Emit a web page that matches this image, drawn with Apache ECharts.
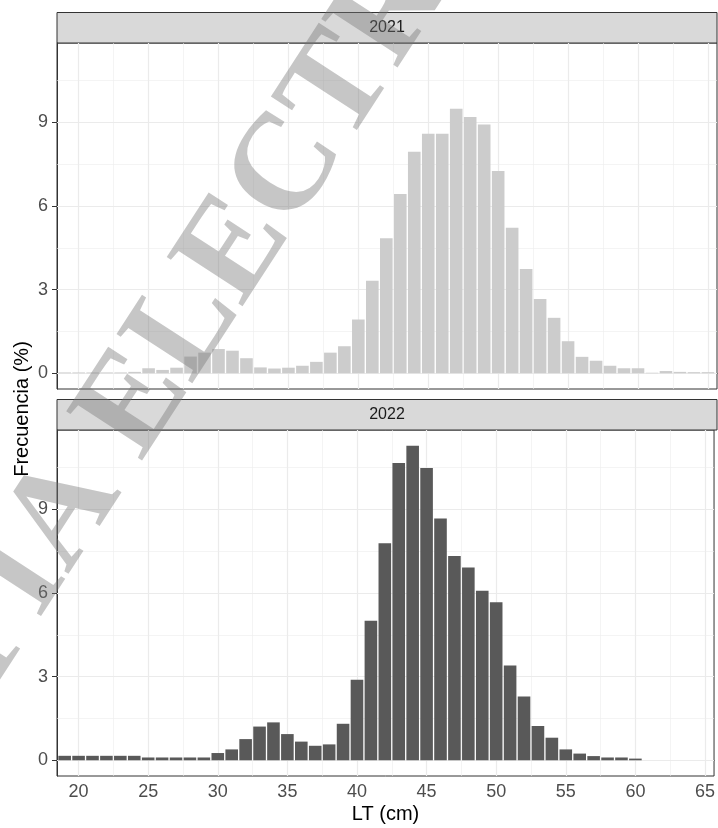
<!DOCTYPE html>
<html><head><meta charset="utf-8">
<script src="https://cdn.jsdelivr.net/npm/echarts@6/dist/echarts.min.js"></script>
<style>html,body{margin:0;padding:0;background:#fff}#c{width:718px;height:828px}</style>
</head><body><div id="c"></div>
<script>
// LT (cm) classes and frequencies (%)
const lengths2021 = [19,20,21,22,23,24,25,26,27,28,29,30,31,32,33,34,35,36,37,38,39,40,41,42,43,44,45,46,47,48,49,50,51,52,53,54,55,56,57,58,59,60,61,62,63,64,65];
const freq2021 = [0.03,0.03,0.03,0.03,0.03,0.05,0.18,0.12,0.20,0.60,0.74,0.87,0.81,0.54,0.21,0.17,0.20,0.27,0.41,0.74,0.97,1.93,3.32,4.85,6.43,7.95,8.60,8.60,9.49,9.20,8.93,7.26,5.22,3.74,2.67,1.99,1.15,0.59,0.45,0.27,0.18,0.18,0.02,0.08,0.05,0.04,0.04];
const lengths2022 = [19,20,21,22,23,24,25,26,27,28,29,30,31,32,33,34,35,36,37,38,39,40,41,42,43,44,45,46,47,48,49,50,51,52,53,54,55,56,57,58,59,60];
const freq2022 = [0.16,0.16,0.16,0.16,0.16,0.16,0.10,0.10,0.10,0.10,0.10,0.26,0.39,0.76,1.21,1.36,0.94,0.67,0.52,0.57,1.31,2.89,5.01,7.79,10.67,11.29,10.49,8.68,7.33,6.92,6.08,5.67,3.40,2.29,1.23,0.81,0.39,0.24,0.15,0.10,0.10,0.06];
const xTicks = [20,25,30,35,40,45,50,55,60,65];
const xMinor = [22.5,27.5,32.5,37.5,42.5,47.5,52.5,57.5,62.5];
const yTicks = [0,3,6,9];
const yMinor = [1.5,4.5,7.5,10.5];
const panelLabels = ['2021','2022'];
const xTitle = 'LT (cm)';
const yTitle = 'Frecuencia (%)';
const watermark = 'COPIA ELECTRONICA';

const FONT = 'Liberation Sans, Arial, sans-serif';
const chart = echarts.init(document.getElementById('c'), null, {renderer:'canvas'});

const grids = [
  {left:57, right:1, top:43, height:346},
  {left:57, right:1, top:430, height:346}
];

function gridLines(){
  const major = {color:'#ebebeb', width:1.2, type:'solid'};
  const minor = {color:'#ededed', width:0.6, type:'solid'};
  const d = [];
  xTicks.forEach(v=>d.push({xAxis:v, lineStyle:major}));
  xMinor.forEach(v=>d.push({xAxis:v, lineStyle:minor}));
  yTicks.forEach(v=>d.push({yAxis:v, lineStyle:major}));
  yMinor.forEach(v=>d.push({yAxis:v, lineStyle:minor}));
  return {silent:true, symbol:['none','none'], z:1, animation:false, label:{show:false}, data:d};
}

function xAxis(i, showLabels){
  return {
    type:'value', gridIndex:i, min:18.45, max:65.65,
    axisLine:{show:true, lineStyle:{color:'#333', width:1}},
    axisTick:{show:showLabels, length:5, lineStyle:{color:'#333'}, customValues:xTicks},
    axisLabel:{show:showLabels, customValues:xTicks, color:'#4d4d4d', fontSize:18, fontFamily:FONT, margin:7},
    splitLine:{show:false},
    name: showLabels ? xTitle : '',
    nameLocation:'middle', nameGap:28,
    nameTextStyle:{color:'#000', fontSize:20, fontFamily:FONT}
  };
}
function yAxis(i){
  return {
    type:'value', gridIndex:i, min:-0.5645, max:11.854,
    axisLine:{show:true, lineStyle:{color:'#333', width:1}},
    axisTick:{show:true, length:5, lineStyle:{color:'#333'}, customValues:yTicks},
    axisLabel:{customValues:yTicks, color:'#4d4d4d', fontSize:18, fontFamily:FONT, margin:9},
    splitLine:{show:false}
  };
}

const strips = grids.map((g,i)=>({
  type:'group', z:50,
  children:[
    {type:'rect', shape:{x:57, y:g.top-30.5, width:660, height:30.5},
     style:{fill:'#d9d9d9', stroke:'#333', lineWidth:1}},
    {type:'text', x:387, y:g.top-15, style:{text:panelLabels[i], fill:'#1a1a1a', font:'16px '+FONT, textAlign:'center', textVerticalAlign:'middle'}}
  ]
}));

chart.setOption({
  animation:false,
  backgroundColor:'#fff',
  grid: grids.map(g=>Object.assign({show:true, borderColor:'#333', borderWidth:1, backgroundColor:'#fff'}, g)),
  xAxis:[xAxis(0,false), xAxis(1,true)],
  yAxis:[yAxis(0), yAxis(1)],
  series:[
    {type:'bar', xAxisIndex:0, yAxisIndex:0, z:2, barWidth:12.6,
     itemStyle:{color:'#cccccc'},
     data: lengths2021.map((x,i)=>[x,freq2021[i]]),
     markLine: gridLines()},
    {type:'bar', xAxisIndex:1, yAxisIndex:1, z:2, barWidth:12.6,
     itemStyle:{color:'#595959'},
     data: lengths2022.map((x,i)=>[x,freq2022[i]]),
     markLine: gridLines()}
  ],
  graphic: strips.concat([
    {type:'text', x:22, y:409, rotation:Math.PI/2, z:60,
     style:{text:yTitle, fill:'#000', font:'20px '+FONT, textAlign:'center', textVerticalAlign:'middle'}},
    {type:'text', x:-150, y:845, rotation:57*Math.PI/180, z:100, silent:true,
     style:{text:watermark, fill:'rgba(120,120,120,0.42)', font:'bold 138px "Liberation Serif", "DejaVu Serif", serif', textAlign:'left', textVerticalAlign:'middle'}}
  ])
});
</script>
</body></html>
